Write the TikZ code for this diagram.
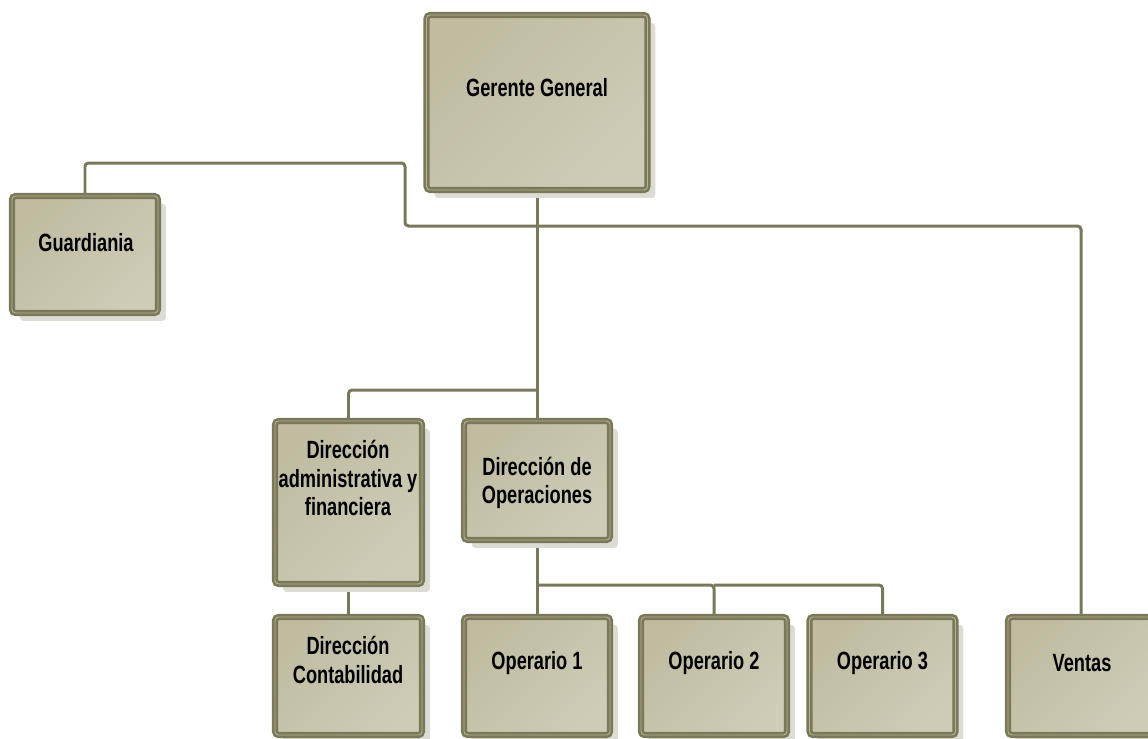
\documentclass[tikz,border=0pt]{standalone}
\usepackage{fontspec}
\usepackage{tikz}
\usetikzlibrary{positioning, calc, backgrounds, shadows}
\newfontfamily\orgfont{Liberation Sans}[FakeStretch=0.73]
\definecolor{edgeolive}{HTML}{7A7858}
\definecolor{edgelight}{HTML}{B8B595}
\definecolor{boxdark}{HTML}{BFBCA0}
\definecolor{boxlight}{HTML}{CECCB7}
\definecolor{shadowgray}{HTML}{DCDCD4}

\begin{document}
\begin{tikzpicture}[x=0.02cm, y=-0.02cm,
    orgbox/.style={draw=edgeolive, double=edgelight, double distance=0.5pt, line width=1.5pt,
        rounded corners=2pt, shading=axis, left color=boxdark, right color=boxlight, shading angle=45,
        drop shadow={shadow xshift=4.5pt, shadow yshift=-4.5pt, fill=shadowgray, opacity=1}},
    orgtxt/.style={font=\orgfont\bfseries\fontsize{14.2}{16}\selectfont, align=center, text=black},
    link/.style={draw=edgeolive, line width=1.7pt, rounded corners=2pt}]
    \useasboundingbox (0,0) rectangle (1148,738);
    % boxes
    \node[orgbox, minimum width=4.42cm, minimum height=3.5cm] (gg) at (537,102.5) {};
    \node[orgbox, minimum width=2.92cm, minimum height=2.34cm] (guard) at (85,254.5) {};
    \node[orgbox, minimum width=2.94cm, minimum height=3.26cm] (dadm) at (348.5,502.5) {};
    \node[orgbox, minimum width=2.92cm, minimum height=2.38cm] (dops) at (537,480.5) {};
    \node[orgbox, minimum width=2.94cm, minimum height=2.36cm] (cont) at (348.5,676) {};
    \foreach \i/\x in {1/537, 2/714, 3/882.5} {
        \node[orgbox, minimum width=2.92cm, minimum height=2.36cm] (op\i) at (\x,676) {};
        \node[orgtxt] (op\i t) at (\x,663) {Operario \i};
    }
    \node[orgbox, minimum width=2.92cm, minimum height=2.36cm] (ventas) at (1081,676) {};
    % texts
    \node[orgtxt] (ggt) at (537,88) {Gerente General};
    \node[orgtxt] (guardt) at (86,243) {Guardiania};
    \node[orgtxt] (dadmt) at (348,478) {Dirección\\administrativa y\\financiera};
    \node[orgtxt] (dopst) at (537,483) {Dirección de\\Operaciones};
    \node[orgtxt] (contt) at (348,660) {Dirección\\Contabilidad};
    \node[orgtxt] (ventast) at (1082,663) {Ventas};
    % connectors
    \begin{scope}[on background layer]
        \draw[link] (gg.south) -- (dops.north);
        \draw[link] (dadm.north) |- (gg.south |- 0,390);
        \draw[link] (guard.north) |- (405,163) |- (ventas.north |- 0,226) -- (ventas.north);
        \draw[link] (dops.south) -- (op1.north);
        \draw[link] (dops.south |- 0,585) -| (op2.north);
        \draw[link] (op2.north |- 0,585) -| (op3.north);
        \draw[link] (dadm.south) -- (cont.north);
    \end{scope}
\end{tikzpicture}
\end{document}
